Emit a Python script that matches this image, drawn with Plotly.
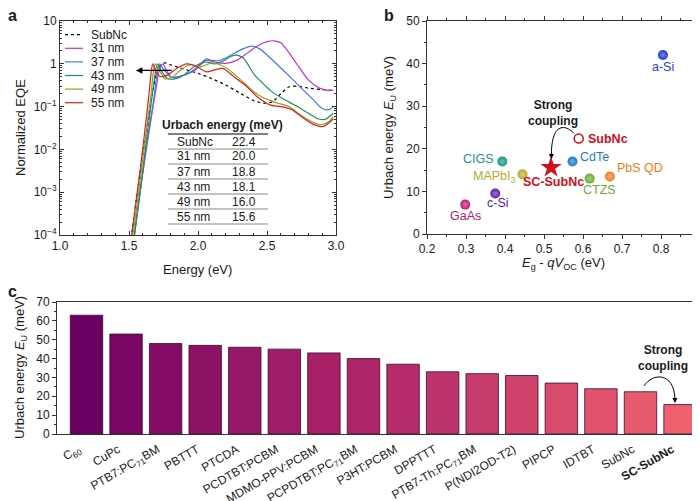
import plotly.graph_objects as go

W, H = 700, 501

# ---------------- panel a : normalized EQE spectra ----------------
eqe_names = ["SubNc", "31 nm", "37 nm", "43 nm", "49 nm", "55 nm"]

subnc_e = [1.51, 1.56, 1.62, 1.67, 1.70, 1.73, 1.76, 1.80, 1.90, 2.00, 2.10, 2.20, 2.30,
           2.40, 2.48, 2.54, 2.60, 2.66, 2.72, 2.80, 2.90, 2.98]
subnc_q = [6e-5, 1e-3, 0.02, 0.2, 0.6, 0.95, 1.05, 0.95, 0.75, 0.6, 0.45, 0.32, 0.21,
           0.14, 0.12, 0.13, 0.2, 0.29, 0.3, 0.27, 0.25, 0.24]

nm31_e = [1.53, 1.58, 1.64, 1.69, 1.72, 1.745, 1.77, 1.81, 1.88, 1.97, 2.06, 2.12, 2.20,
          2.28, 2.36, 2.43, 2.50, 2.55, 2.60, 2.66, 2.72, 2.80, 2.88, 2.94, 2.98]
nm31_q = [6e-5, 1e-3, 0.02, 0.2, 0.7, 1.0, 0.72, 0.48, 0.52, 0.68, 1.2, 1.1, 1.02,
          1.2, 1.8, 2.6, 3.3, 3.45, 3.1, 1.8, 0.95, 0.42, 0.27, 0.24, 0.24]

nm37_e = [1.53, 1.58, 1.63, 1.68, 1.70, 1.72, 1.75, 1.80, 1.86, 1.93, 2.00, 2.06, 2.10,
          2.16, 2.24, 2.32, 2.39, 2.45, 2.52, 2.60, 2.68, 2.76, 2.84, 2.90, 2.95, 2.98]
nm37_q = [6e-5, 1e-3, 0.015, 0.15, 0.5, 1.0, 0.75, 0.5, 0.5, 0.6, 0.87, 1.3, 1.2,
          1.2, 1.6, 2.2, 2.6, 2.2, 1.4, 0.8, 0.45, 0.25, 0.14, 0.09, 0.085, 0.1]

nm43_e = [1.53, 1.58, 1.63, 1.67, 1.69, 1.705, 1.73, 1.78, 1.84, 1.90, 1.97, 2.05, 2.12,
          2.18, 2.24, 2.28, 2.33, 2.41, 2.47, 2.53, 2.62, 2.72, 2.80, 2.87, 2.92, 2.98]
nm43_q = [6e-5, 1e-3, 0.02, 0.2, 0.6, 1.0, 0.72, 0.45, 0.45, 0.55, 0.85, 1.1, 1.0,
          1.15, 1.5, 1.6, 1.35, 0.55, 0.35, 0.23, 0.15, 0.1, 0.07, 0.052, 0.05, 0.07]

nm49_e = [1.52, 1.57, 1.62, 1.66, 1.675, 1.69, 1.72, 1.76, 1.82, 1.88, 1.95, 2.02, 2.10,
          2.16, 2.22, 2.31, 2.38, 2.46, 2.52, 2.58, 2.66, 2.74, 2.82, 2.89, 2.95, 2.98]
nm49_q = [6e-5, 1e-3, 0.02, 0.2, 0.6, 1.0, 0.7, 0.45, 0.5, 0.75, 0.95, 0.85, 1.05,
          0.95, 0.75, 0.42, 0.26, 0.17, 0.14, 0.12, 0.1, 0.065, 0.045, 0.038, 0.045, 0.058]

nm55_e = [1.51, 1.56, 1.61, 1.645, 1.66, 1.672, 1.70, 1.73, 1.78, 1.85, 1.92, 1.98, 2.06,
          2.12, 2.18, 2.26, 2.34, 2.43, 2.52, 2.60, 2.68, 2.76, 2.84, 2.90, 2.95, 2.98]
nm55_q = [6e-5, 1e-3, 0.02, 0.2, 0.6, 1.0, 0.6, 0.5, 0.55, 0.8, 1.0, 0.9, 0.65,
          0.72, 0.78, 0.5, 0.32, 0.17, 0.11, 0.1, 0.085, 0.055, 0.038, 0.034, 0.042, 0.052]

table_rows = ["SubNc", "31 nm", "37 nm", "43 nm", "49 nm", "55 nm"]
table_eu = [22.4, 20.0, 18.8, 18.1, 16.0, 15.6]

# ---------------- panel b : Urbach energy vs voltage loss ----------------
mat_names = ["a-Si", "CdTe", "CIGS", "MAPbI<sub>3</sub>", "CTZS", "PbS QD", "c-Si", "GaAs"]
mat_loss = [0.805, 0.573, 0.393, 0.445, 0.617, 0.669, 0.375, 0.298]
mat_eu = [42.0, 17.0, 17.0, 14.0, 13.0, 13.5, 9.5, 6.9]
subnc_loss, subnc_eu = 0.589, 22.4
sc_loss, sc_eu = 0.518, 15.6

# ---------------- panel c : Urbach energies of organic materials ----------------
bar_labels = ["C<sub>60</sub>", "CuPc", "PTB7:PC<sub>71</sub>BM", "PBTTT", "PTCDA",
              "PCDTBT:PCBM", "MDMO-PPV:PCBM", "PCPDTBT:PC<sub>71</sub>BM", "P3HT:PCBM",
              "DPPTTT", "PTB7-Th:PC<sub>71</sub>BM", "P(NDI2OD-T2)", "PIPCP", "IDTBT",
              "SubNc", "<b>SC-SubNc</b>"]
bar_eu = [63, 53, 48, 47, 46, 45, 43, 40, 37, 33, 32, 31, 27, 24, 22.4, 15.6]

# ---------------- styles ----------------
FONT = "Liberation Sans, Arial, sans-serif"
AX = "#333333"
TXT = "#1a1a1a"
eqe_colors = ["black", "#c232c8", "#4a78e0", "#179062", "#88a41e", "#e0201e"]
mat_colors = ["#1d3ccc", "#1f7cc4", "#1c9482", "#b8aa30", "#6aac34", "#f27a26", "#5c22aa", "#b8206e"]
mat_glow = ["#6f88e6", "#6fb0e0", "#6cc2b4", "#dcd27a", "#a8d27a", "#f8b27a", "#9a70d0", "#dc70a8"]
RED = "#d0101c"
bar_colors = ["#6a0062", "#790665", "#850c66", "#8e1266", "#971866", "#9f1c68", "#a72068",
              "#ae256a", "#b62c6a", "#bd336b", "#c63a6c", "#cf426c", "#d94b6d", "#e1536d",
              "#e85a6e", "#f0616f"]


def X(p):
    return p / W


def Y(p):
    return 1 - p / H


fig = go.Figure()

eqe_e = [subnc_e, nm31_e, nm37_e, nm43_e, nm49_e, nm55_e]
eqe_q = [subnc_q, nm31_q, nm37_q, nm43_q, nm49_q, nm55_q]
for name, e, q, c in zip(eqe_names, eqe_e, eqe_q, eqe_colors):
    fig.add_trace(go.Scatter(x=e, y=q, mode="lines", name=name, showlegend=False,
                             line=dict(color=c, width=1.2, dash="dot" if name == "SubNc" else "solid",
                                       shape="spline", smoothing=0.7),
                             xaxis="x", yaxis="y"))

# sphere-like markers: one trace per material so each gets its own highlight colour
for x, y, c, g in zip(mat_loss, mat_eu, mat_colors, mat_glow):
    fig.add_trace(go.Scatter(x=[x], y=[y], mode="markers", showlegend=False,
                             marker=dict(size=10, color=c, gradient=dict(type="radial", color=g),
                                         line=dict(width=0)),
                             xaxis="x2", yaxis="y2"))
fig.add_trace(go.Scatter(x=[subnc_loss], y=[subnc_eu], mode="markers", showlegend=False,
                         marker=dict(size=9, symbol="circle-open", color=RED, line=dict(width=1.5)),
                         xaxis="x2", yaxis="y2"))
fig.add_trace(go.Scatter(x=[sc_loss], y=[sc_eu], mode="markers", showlegend=False,
                         marker=dict(size=16, symbol="star", color=RED, line=dict(width=0)),
                         xaxis="x2", yaxis="y2"))

fig.add_trace(go.Bar(x=list(range(len(bar_eu))), y=bar_eu, width=0.82, showlegend=False,
                     marker=dict(color=bar_colors, line=dict(color="#3a0c2c", width=0.8)),
                     xaxis="x3", yaxis="y3"))

tickfont = dict(family=FONT, size=12, color=TXT)
common = dict(showline=True, linecolor=AX, linewidth=1, mirror="ticks", showgrid=False,
              zeroline=False, automargin=False, tickfont=tickfont, tickcolor=AX)

fig.update_layout(
    width=W, height=H, margin=dict(l=0, r=0, t=0, b=0),
    paper_bgcolor="white", plot_bgcolor="white", template="none",
    font=dict(family=FONT, size=12, color=TXT),
    xaxis=dict(domain=[X(52), X(328)], range=[1, 3], dtick=0.5, tickformat=".1f",
               ticks="inside", ticklen=4, minor=dict(ticks="inside", dtick=0.1, ticklen=2, tickcolor=AX),
               anchor="y", **common),
    yaxis=dict(domain=[Y(227), Y(13)], type="log", range=[-4, 1],
               tickvals=[1e-4, 1e-3, 1e-2, 1e-1, 1, 10],
               ticktext=["10<sup>\u22124</sup>", "10<sup>\u22123</sup>", "10<sup>\u22122</sup>",
                         "10<sup>\u22121</sup>", "1", "10"],
               ticks="inside", ticklen=4, minor=dict(ticks="inside", dtick="D1", ticklen=2, tickcolor=AX),
               anchor="x", **common),
    xaxis2=dict(domain=[X(419), X(692)], range=[0.2, 0.9], dtick=0.1, tickformat=".1f",
                ticks="outside", ticklen=4, minor=dict(ticks="outside", dtick=0.05, ticklen=2, tickcolor=AX),
                anchor="y2", **common),
    yaxis2=dict(domain=[Y(226), Y(13)], range=[0, 50], dtick=10,
                ticks="outside", ticklen=4, minor=dict(ticks="outside", dtick=5, ticklen=2, tickcolor=AX),
                anchor="x2", **common),
    xaxis3=dict(domain=[X(49), X(697)], range=[-0.745, len(bar_eu) - 0.37],
                tickvals=list(range(len(bar_eu))), ticktext=bar_labels, tickangle=-30,
                ticklabelshift=-8, ticklabelstandoff=3,
                ticks="", anchor="y3", showline=True, linecolor=AX, mirror=True, showgrid=False,
                zeroline=False, automargin=False, tickfont=dict(family=FONT, size=12, color=TXT)),
    yaxis3=dict(domain=[Y(426), Y(294)], range=[0, 70], dtick=10,
                ticks="outside", ticklen=4, minor=dict(ticks="outside", dtick=5, ticklen=2, tickcolor=AX),
                anchor="x3", **common),
)

ann = []
shapes = []


def label(x, y, text, size=12, bold=False, color=TXT, xanchor="center", angle=0, xref="paper", yref="paper"):
    ann.append(dict(x=x, y=y, xref=xref, yref=yref, text=f"<b>{text}</b>" if bold else text,
                    showarrow=False, xanchor=xanchor, yanchor="middle", textangle=angle,
                    font=dict(family=FONT, size=size, color=color)))


# panel letters
label(X(4), Y(8), "a", size=16, bold=True)
label(X(381), Y(8), "b", size=16, bold=True)
label(X(4), Y(283), "c", size=16, bold=True)

# axis titles
label(X(190), Y(261), "Energy (eV)", size=13)
label(X(12), Y(120), "Normalized EQE", size=13, angle=-90)
label(X(555), Y(255), "<i>E</i><sub>g</sub> - <i>qV</i><sub>OC</sub> (eV)", size=13)
label(X(381), Y(120), "Urbach energy <i>E</i><sub>U</sub> (meV)", size=13, angle=-90)
label(X(12), Y(360), "Urbach energy <i>E</i><sub>U</sub> (meV)", size=13, angle=-90)

# panel a legend (drawn by hand to match short line samples)
for i, (name, c) in enumerate(zip(eqe_names, eqe_colors)):
    yy = 26.7 + 13.6 * i
    shapes.append(dict(type="line", xref="paper", yref="paper", x0=X(57), x1=X(75), y0=Y(yy), y1=Y(yy),
                       line=dict(color=c, width=1.2, dash="dot" if name == "SubNc" else "solid")))
    label(X(81), Y(yy), name, size=12, xanchor="left")

# panel a table
label(X(214), Y(117), "Urbach energy (meV)", size=12, bold=True)
for i in range(len(table_rows) + 1):
    yy = 126 + 15 * i
    shapes.append(dict(type="line", xref="paper", yref="paper", x0=X(160), x1=X(260), y0=Y(yy), y1=Y(yy),
                       line=dict(color="black" if i == 0 else "#888888", width=1)))
for i, (r, v) in enumerate(zip(table_rows, table_eu)):
    yy = 133.5 + 15 * i
    label(X(167), Y(yy), r, size=12, xanchor="left")
    label(X(236), Y(yy), f"{v:.1f}", size=12)

# panel a arrow
ann.append(dict(x=1.55, y=-0.155, ax=1.82, ay=-0.155, xref="x", yref="y", axref="x", ayref="y",
                showarrow=True, arrowhead=2, arrowsize=1, arrowwidth=1.3, arrowcolor="black", text=""))

# panel b point labels (offsets in px)
offs = {"a-Si": (0, -12, "center"), "CdTe": (6, 5, "left"), "CIGS": (-6, 3, "right"),
        "MAPbI<sub>3</sub>": (-5, -3, "right"), "CTZS": (10, -11, "center"),
        "PbS QD": (5, 8, "left"), "c-Si": (3, -9, "center"), "GaAs": (0, -11, "center")}
for n, x, y, c in zip(mat_names, mat_loss, mat_eu, mat_colors):
    dx, dy, xa = offs[n]
    ann.append(dict(x=x, y=y, xref="x2", yref="y2", text=n, showarrow=False, xanchor=xa,
                    yanchor="middle", xshift=dx, yshift=dy, font=dict(family=FONT, size=12.5, color=c)))
ann.append(dict(x=subnc_loss, y=subnc_eu, xref="x2", yref="y2", text="<b>SubNc</b>", showarrow=False,
                xanchor="left", xshift=7, font=dict(family=FONT, size=12.5, color=RED)))
ann.append(dict(x=sc_loss, y=sc_eu, xref="x2", yref="y2", text="<b>SC-SubNc</b>", showarrow=False,
                xanchor="center", xshift=2, yshift=-14, font=dict(family=FONT, size=12.5, color=RED)))
ann.append(dict(x=0.522, y=28.3, xref="x2", yref="y2", text="<b>Strong<br>coupling</b>", showarrow=False,
                font=dict(family=FONT, size=12, color=TXT)))
shapes.append(dict(type="path", xref="x2", yref="y2", path="M 0.577 23.6 C 0.555 25.8, 0.519 26.2, 0.519 18.6",
                   line=dict(color="black", width=1)))
ann.append(dict(x=0.519, y=17.6, ax=0.519, ay=19.4, xref="x2", yref="y2", axref="x2", ayref="y2",
                showarrow=True, arrowhead=2, arrowsize=1, arrowwidth=1, arrowcolor="black", text=""))

# panel c annotation
ann.append(dict(x=14.57, y=40.3, xref="x3", yref="y3", text="<b>Strong<br>coupling</b>", showarrow=False,
                font=dict(family=FONT, size=12, color=TXT)))
shapes.append(dict(type="path", xref="x3", yref="y3", path="M 14.09 25.5 C 14.3 32.5, 14.85 33, 14.87 18.6",
                   line=dict(color="black", width=1)))
ann.append(dict(x=14.87, y=16.4, ax=14.87, ay=19.2, xref="x3", yref="y3", axref="x3", ayref="y3",
                showarrow=True, arrowhead=2, arrowsize=1, arrowwidth=1, arrowcolor="black", text=""))

fig.update_layout(annotations=ann, shapes=shapes)
fig.write_html("out.html")
